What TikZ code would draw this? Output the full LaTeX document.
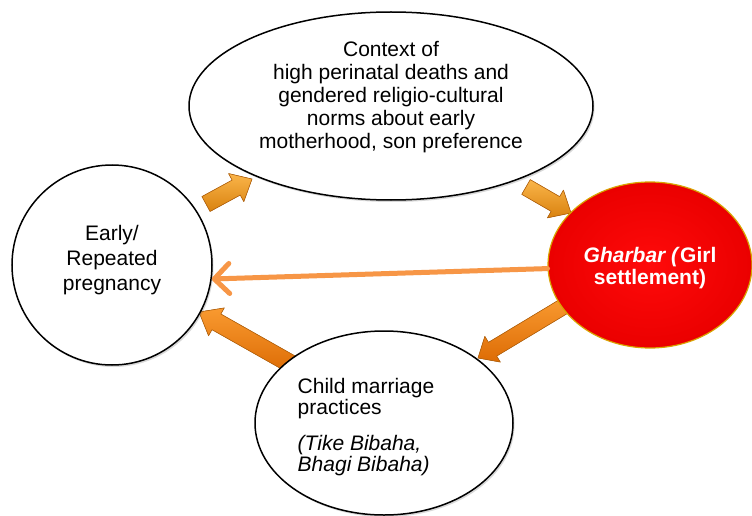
\documentclass[tikz,border=0pt]{standalone}
\usepackage{fontspec}
\setmainfont{Liberation Sans}
\usetikzlibrary{shapes.geometric,arrows.meta,calc,shadows}
\definecolor{thinorange}{HTML}{F79646}
\definecolor{blocklightA}{HTML}{FAB54A}
\definecolor{blockdarkA}{HTML}{D9820F}
\definecolor{blocklightB}{HTML}{F99A30}
\definecolor{blockdarkB}{HTML}{DD6C05}
\definecolor{blockedge}{HTML}{B8640C}
\definecolor{redfill}{HTML}{FF0A0A}
\definecolor{redrim}{HTML}{D9A400}
% #1 style, #2 start, #3 end, #4 half shaft width, #5 half head width, #6 head length
\newcommand{\orangeblockarrow}[6][]{%
  \coordinate (ba-h) at ($(#3)!#6!(#2)$);
  \filldraw[#1] ($(#2)!#4!90:(#3)$) -- ($(ba-h)!#4!90:(#3)$) -- ($(ba-h)!#5!90:(#3)$)
    -- (#3) -- ($(ba-h)!#5!-90:(#3)$) -- ($(ba-h)!#4!-90:(#3)$) -- ($(#2)!#4!-90:(#3)$) -- cycle;}
% shift text visually while keeping the box dimensions
\newcommand{\liftby}[2]{\raisebox{#1}[\height][\depth]{#2}}
\begin{document}
\begin{tikzpicture}[x=1pt,y=-1pt,
  bubble/.style={ellipse, draw=black, line width=1.5pt, fill=white, inner sep=0pt,
    drop shadow={shadow xshift=1.5pt, shadow yshift=-2pt, opacity=0.25, fill=black!60}},
  redbubble/.style={ellipse, draw=redrim, line width=1.2pt, inner sep=0pt,
    shading=radial, inner color=redfill, outer color=red!92!black, text=white},
  blockA/.style={top color=blocklightA, bottom color=blockdarkA, draw=blockedge, line width=0.6pt, line join=round},
  blockB/.style={top color=blocklightB, bottom color=blockdarkB, draw=blockedge, line width=0.6pt, line join=round},
  thinarrow/.style={draw=thinorange, line width=5pt, line cap=round,
    -{Straight Barb[length=15pt, width=30pt, round]}}
]
\useasboundingbox (0,0) rectangle (752,516);
\fill[white] (0,0) rectangle (752,516);

% block arrow end points
\coordinate (a1s) at (206,204);
\coordinate (a1e) at (252,179);
\coordinate (a2s) at (526,187);
\coordinate (a2e) at (571,213);
\coordinate (a3s) at (566,305);
\coordinate (a3e) at (478,358);
\coordinate (a4s) at (291,364);
\coordinate (a4e) at (199,312);

\orangeblockarrow[blockA]{a1s}{a1e}{8.5pt}{16pt}{18pt}
\orangeblockarrow[blockA]{a2s}{a2e}{8.5pt}{16pt}{18pt}
\orangeblockarrow[blockB]{a3s}{a3e}{8pt}{15pt}{17pt}
\orangeblockarrow[blockB]{a4s}{a4e}{9pt}{16pt}{20pt}

% nodes
\node[bubble, minimum width=404pt, minimum height=188pt] (T) at (391,106)
  {\liftby{8pt}{\fontsize{21}{23}\selectfont\begin{tabular}{@{}c@{}}Context of\\
   high perinatal deaths and\\ gendered religio-cultural\\ norms about early\\
   motherhood, son preference\end{tabular}}};

\node[bubble, circle, minimum size=200pt] (L) at (112,265)
  {\liftby{5pt}{\fontsize{21}{25}\selectfont\begin{tabular}{@{}c@{}}Early/\\ Repeated\\ pregnancy\end{tabular}}};

\node[bubble, minimum width=258pt, minimum height=184pt] (B) at (384,423)
  {\liftby{-5pt}{\fontsize{21}{21}\selectfont\begin{tabular}{@{}l@{}}Child marriage\\ practices\\[14pt]
   \textit{(Tike Bibaha,}\\ \textit{Bhagi Bibaha)}\end{tabular}}\hspace*{36pt}};

\node[redbubble, minimum width=204pt, minimum height=166pt] (R) at (650,265)
  {\liftby{-4pt}{\fontsize{21}{22}\selectfont\bfseries\begin{tabular}{@{}c@{}}\textit{Gharbar (}Girl\\ settlement)\end{tabular}}};

% thin arrow
\draw[thinarrow] (R.182) -- (L.352);
\end{tikzpicture}
\end{document}
